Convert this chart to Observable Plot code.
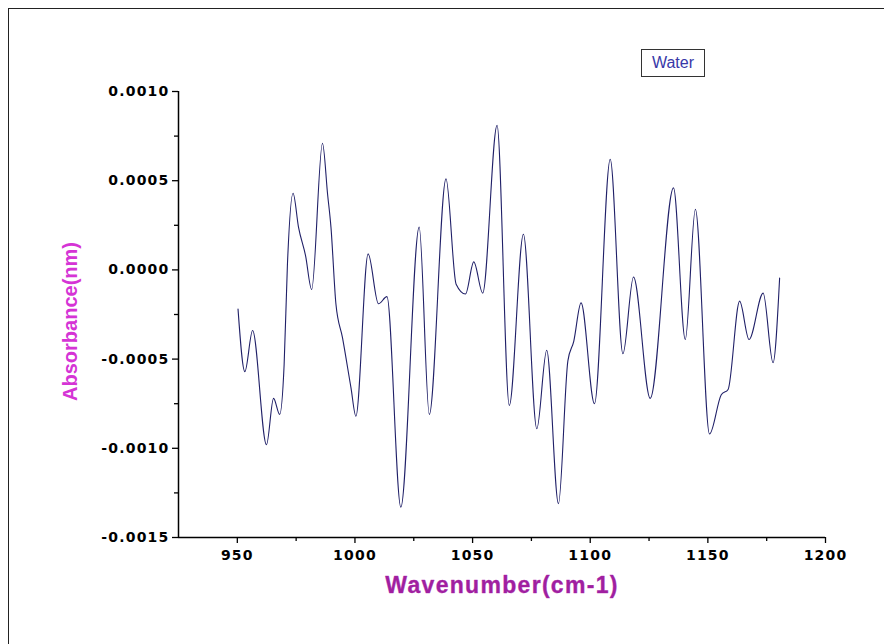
<!DOCTYPE html>
<html>
<head>
<meta charset="utf-8">
<script src="https://cdn.jsdelivr.net/npm/d3@7"></script>
<script src="https://cdn.jsdelivr.net/npm/@observablehq/plot@0.6"></script>
<style>
  html, body { margin: 0; padding: 0; background: #fff; overflow: hidden; }
  #wrap { position: relative; width: 884px; height: 644px; overflow: hidden; background: #fff; }
  #frame { position: absolute; left: 8px; top: 8px; width: 876px; height: 636px;
           border-top: 1px solid #222; border-left: 1px solid #222; box-sizing: border-box; pointer-events: none; }
  #legend { position: absolute; left: 641px; top: 49px; width: 64px; height: 28px; box-sizing: border-box;
            border: 1px solid #333; font: 16px "Liberation Sans", Arial, sans-serif; color: #3838a8;
            display: flex; align-items: center; justify-content: center; background: #fff; }
  #chart { position: absolute; left: 0; top: 0; }
  #chart svg g[aria-label="x-axis tick label"] text,
  #chart svg g[aria-label="y-axis tick label"] text { letter-spacing: 1.2px; }
  #chart .xt text { letter-spacing: 1.3px; }
</style>
</head>
<body>
<div id="wrap">
  <div id="chart"></div>
  <div id="frame"></div>
  <div id="legend">Water</div>
</div>
<script>
// Wavenumber (cm-1) and absorbance
const wavenumber = [950.3, 953.2, 956.5, 962.4, 965.4, 968.0, 969.9, 971.3, 973.7, 976.0, 979.0, 981.6,
  986.2, 988.4, 989.8, 991.9, 994.7, 998.3, 1000.4, 1005.6, 1010.0, 1013.6, 1019.5, 1027.3,
  1031.6, 1038.7, 1043.0, 1047.0, 1050.5, 1054.3, 1060.4, 1065.6, 1071.6, 1077.3, 1081.5,
  1086.5, 1090.5, 1093.0, 1096.1, 1101.8, 1108.5, 1113.9, 1118.4, 1125.5, 1135.4, 1140.4,
  1144.7, 1150.7, 1155.7, 1158.6, 1163.5, 1167.5, 1173.5, 1177.7, 1180.5];
const absorbance = [-0.00022, -0.00057, -0.00034, -0.00098, -0.00072, -0.00081, -0.00053, 0.00003, 0.00043, 0.00024, 0.00008, -0.00011,
  0.00071, 0.00042, 0.00024, -0.00019, -0.00038, -0.00066, -0.00082, 0.00009, -0.00019, -0.00015, -0.00133, 0.00024,
  -0.00081, 0.00051, -0.00008, -0.000135, 0.000045, -0.00013, 0.00081, -0.00076, 0.00020, -0.00089, -0.00045,
  -0.00131, -0.00051, -0.00040, -0.000185, -0.00075, 0.00062, -0.00047, -0.00004, -0.00072, 0.00046, -0.00039,
  0.00034, -0.00092, -0.00070, -0.00067, -0.000175, -0.00039, -0.00013, -0.00052, -0.000045];

const xMajor = [950, 1000, 1050, 1100, 1150, 1200];
const xMinor = [975, 1025, 1075, 1125, 1175];
const yMajor = [0.0010, 0.0005, 0.0000, -0.0005, -0.0010, -0.0015];
const yMinor = [0.00075, 0.00025, -0.00025, -0.00075, -0.00125];
const xDomain = [925, 1200];
const yDomain = [-0.0015, 0.0010];

const spectrum = wavenumber.map((w, i) => ({w, a: absorbance[i]}));

const tickFont = {fontFamily: "DejaVu Sans", fontWeight: "bold", fontSize: 14};

const chart = Plot.plot({
  width: 884,
  height: 644,
  marginLeft: 178,
  marginRight: 59,
  marginTop: 91,
  marginBottom: 107,
  style: {background: "transparent", color: "#000", fontFamily: "DejaVu Sans", overflow: "visible"},
  x: {domain: xDomain, label: null},
  y: {domain: yDomain, label: null},
  marks: [
    Plot.axisX({ticks: xMajor, tickSize: 6, tickPadding: 7, tickFormat: d => String(d), strokeWidth: 1.3, label: null, ...tickFont}),
    Plot.axisX({ticks: xMinor, tickSize: 4, tickFormat: () => "", strokeWidth: 1.3, label: null}),
    Plot.axisY({ticks: yMajor, tickSize: 6, tickPadding: 3, tickFormat: d => d.toFixed(4), strokeWidth: 1.3, label: null, ...tickFont}),
    Plot.axisY({ticks: yMinor, tickSize: 4, tickFormat: () => "", strokeWidth: 1.3, label: null}),
    Plot.ruleY([yDomain[0]], {stroke: "#000", strokeWidth: 1.5}),
    Plot.ruleX([xDomain[0]], {stroke: "#000", strokeWidth: 1.5}),
    Plot.line(spectrum, {x: "w", y: "a", stroke: "#202068", strokeWidth: 1.1, curve: "monotone-x"}),
    Plot.text(["Wavenumber(cm-1)"], {frameAnchor: "bottom", dy: 55, fill: "#a01fa0", fontSize: 23,
      fontWeight: "bold", fontFamily: "Liberation Sans", stroke: "#c040c0", strokeWidth: 0.4, className: "xt"}),
    Plot.text(["Absorbance(nm)"], {frameAnchor: "left", textAnchor: "middle", dx: -108, dy: 7, rotate: -90, fill: "#d534d5",
      fontSize: 20, fontWeight: "bold", fontFamily: "Liberation Sans"})
  ]
});
document.getElementById("chart").appendChild(chart);
</script>
</body>
</html>
